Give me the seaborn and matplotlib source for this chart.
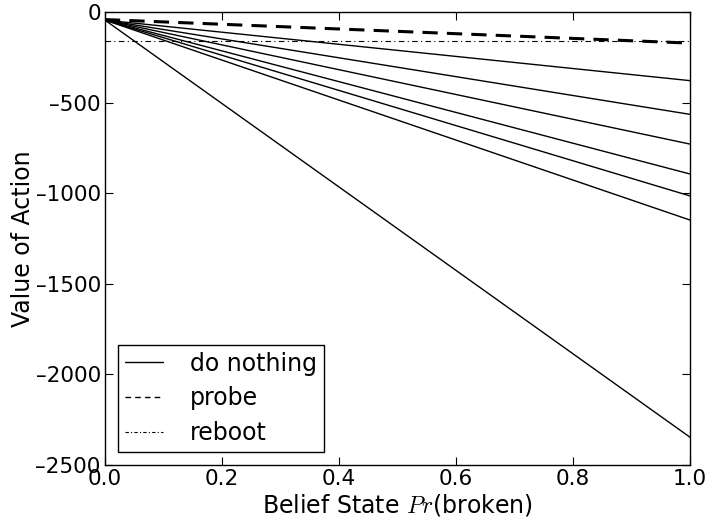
import matplotlib
matplotlib.use("Agg")
import matplotlib.pyplot as plt
import seaborn as sns
import pandas as pd
from matplotlib.lines import Line2D

# data
belief = [0.0, 1.0]
do_nothing_start = [-45, -45, -45, -45, -45, -45, -45]
do_nothing_end = [-379, -565, -729, -894, -1015, -1148, -2346]
probe_values = [-42, -172]
reboot_values = [-160, -160]
x_ticks = [0.0, 0.2, 0.4, 0.6, 0.8, 1.0]
y_ticks = [0, -500, -1000, -1500, -2000, -2500]
legend_labels = ["do nothing", "probe", "reboot"]

sns.set_style("ticks")
plt.rcParams["font.family"] = ["DejaVu Sans"]
plt.rcParams["mathtext.fontset"] = "cm"
plt.rcParams["text.color"] = "black"
plt.rcParams["axes.labelcolor"] = "black"
plt.rcParams["xtick.color"] = "black"
plt.rcParams["ytick.color"] = "black"

fig = plt.figure(figsize=(7.09, 5.19), dpi=100)
ax = fig.add_axes([0.148, 0.104, 0.825, 0.873])

rows = []
for i, (s, e) in enumerate(zip(do_nothing_start, do_nothing_end)):
    for xv, yv in zip(belief, [s, e]):
        rows.append({"x": xv, "y": yv, "line": f"dn{i}"})
df = pd.DataFrame(rows)
sns.lineplot(data=df, x="x", y="y", units="line", estimator=None,
             color="black", linewidth=1.0, ax=ax, legend=False)
sns.lineplot(x=belief, y=probe_values, color="black", linewidth=2.2,
             linestyle=(0, (5, 3)), ax=ax, legend=False)
sns.lineplot(x=belief, y=reboot_values, color="black", linewidth=0.8,
             linestyle=(0, (5, 3, 1, 3)), ax=ax, legend=False)

ax.set_xlim(0, 1)
ax.set_ylim(-2500, 0)
ax.set_xticks(x_ticks)
ax.set_yticks(y_ticks)
ax.set_xticklabels([f"{t:.1f}" for t in x_ticks])
ax.set_yticklabels(["0"] + [f"\u2013{abs(t)}" for t in y_ticks[1:]])
ax.tick_params(direction="in", top=True, right=True, labelsize=15.5,
               length=6, width=0.8, pad=3, colors="black")
for sp in ax.spines.values():
    sp.set_linewidth(1.0)
    sp.set_color("black")

ax.set_xlabel("Belief State $Pr$(broken)", fontsize=17, labelpad=2)
ax.set_ylabel("Value of Action", fontsize=17)
ax.yaxis.set_label_coords(-0.12, 0.5)

handles = [
    Line2D([], [], color="black", linewidth=1.0),
    Line2D([], [], color="black", linewidth=1.0, linestyle=(0, (4, 3))),
    Line2D([], [], color="black", linewidth=0.8, linestyle=(0, (3, 2, 1, 2))),
]
leg = ax.legend(handles, legend_labels, loc="lower left",
                fontsize=17, frameon=True, fancybox=False, framealpha=1,
                edgecolor="black", handlelength=1.6, handletextpad=1.15,
                borderaxespad=0.55, labelspacing=0.45, borderpad=0.3)
leg.get_frame().set_linewidth(1.0)

fig.savefig("out.png", dpi=100)
